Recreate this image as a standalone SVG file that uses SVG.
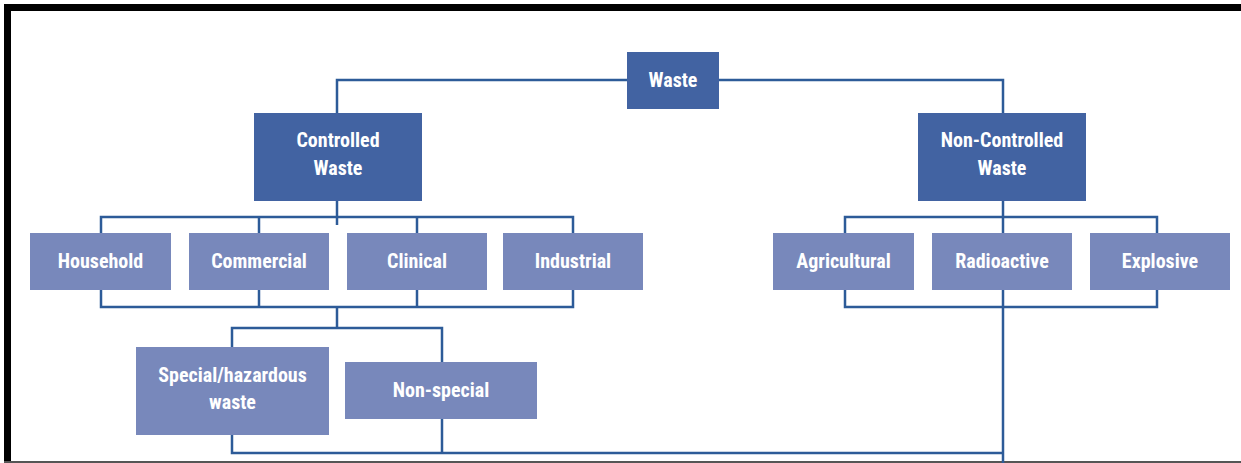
<svg xmlns="http://www.w3.org/2000/svg" width="1241" height="463" viewBox="0 0 1241 463">
  <style>
    .dark { fill: #4263a2; }
    .light { fill: #7888bb; }
    .lbl { fill: #ffffff; font-family: "Liberation Sans Narrow", "Roboto Condensed", "DejaVu Sans Condensed", "Liberation Sans", sans-serif; font-weight: bold; font-size: 20px; text-anchor: middle; }
    .wire { fill: none; stroke: #2d5b98; stroke-width: 2.5; }
  </style>

  <!-- page frame -->
  <rect x="0" y="0" width="1241" height="463" fill="#ffffff"/>
  <rect x="4" y="4" width="1237" height="7" fill="#000000"/>
  <rect x="4" y="4" width="7" height="459" fill="#000000"/>
  <rect x="4" y="461" width="1237" height="2" fill="#555555"/>

  <!-- connectors -->
  <g id="connectors" class="wire">
    <!-- root to the two main classes -->
    <path d="M627 80 H337 V113"/>
    <path d="M719 80 H1003 V113"/>
    <!-- controlled waste to its sources -->
    <path d="M337 201 V225"/>
    <path d="M101 233 V217 H573 V233"/>
    <path d="M259 217 V233"/>
    <path d="M417 217 V233"/>
    <!-- sources merging -->
    <path d="M101 290 V307 H573 V290"/>
    <path d="M259 290 V307"/>
    <path d="M417 290 V307"/>
    <path d="M337 307 V328"/>
    <!-- split into special / non-special -->
    <path d="M232 347 V328 H442 V362"/>
    <!-- non-controlled waste to its sources -->
    <path d="M1003 201 V233"/>
    <path d="M845 233 V217 H1157 V233"/>
    <path d="M845 290 V307 H1157 V290"/>
    <!-- all streams joining at the bottom -->
    <path d="M1003 290 V463"/>
    <path d="M232 435 V453 H1003"/>
    <path d="M442 419 V453"/>
  </g>

  <g id="waste">
    <rect class="dark" x="627" y="52" width="92" height="57"/>
    <text class="lbl" x="673" y="87">Waste</text>
  </g>

  <g id="controlled">
    <rect class="dark" x="254" y="113" width="168" height="88"/>
    <text class="lbl" x="338" y="147">Controlled</text>
    <text class="lbl" x="338" y="175">Waste</text>
  </g>

  <g id="non-controlled">
    <rect class="dark" x="918" y="113" width="168" height="88"/>
    <text class="lbl" x="1002" y="147">Non-Controlled</text>
    <text class="lbl" x="1002" y="175">Waste</text>
  </g>

  <g id="household">
    <rect class="light" x="30" y="233" width="141" height="57"/>
    <text class="lbl" x="100.5" y="268">Household</text>
  </g>

  <g id="commercial">
    <rect class="light" x="189" y="233" width="140" height="57"/>
    <text class="lbl" x="259" y="268">Commercial</text>
  </g>

  <g id="clinical">
    <rect class="light" x="347" y="233" width="140" height="57"/>
    <text class="lbl" x="417" y="268">Clinical</text>
  </g>

  <g id="industrial">
    <rect class="light" x="503" y="233" width="140" height="57"/>
    <text class="lbl" x="573" y="268">Industrial</text>
  </g>

  <g id="agricultural">
    <rect class="light" x="773" y="233" width="141" height="57"/>
    <text class="lbl" x="843.5" y="268">Agricultural</text>
  </g>

  <g id="radioactive">
    <rect class="light" x="932" y="233" width="140" height="57"/>
    <text class="lbl" x="1002" y="268">Radioactive</text>
  </g>

  <g id="explosive">
    <rect class="light" x="1090" y="233" width="140" height="57"/>
    <text class="lbl" x="1160" y="268">Explosive</text>
  </g>

  <g id="special">
    <rect class="light" x="136" y="347" width="193" height="88"/>
    <text class="lbl" x="232.5" y="382">Special/hazardous</text>
    <text class="lbl" x="232.5" y="409">waste</text>
  </g>

  <g id="non-special">
    <rect class="light" x="345" y="362" width="192" height="57"/>
    <text class="lbl" x="441" y="397">Non-special</text>
  </g>
</svg>
